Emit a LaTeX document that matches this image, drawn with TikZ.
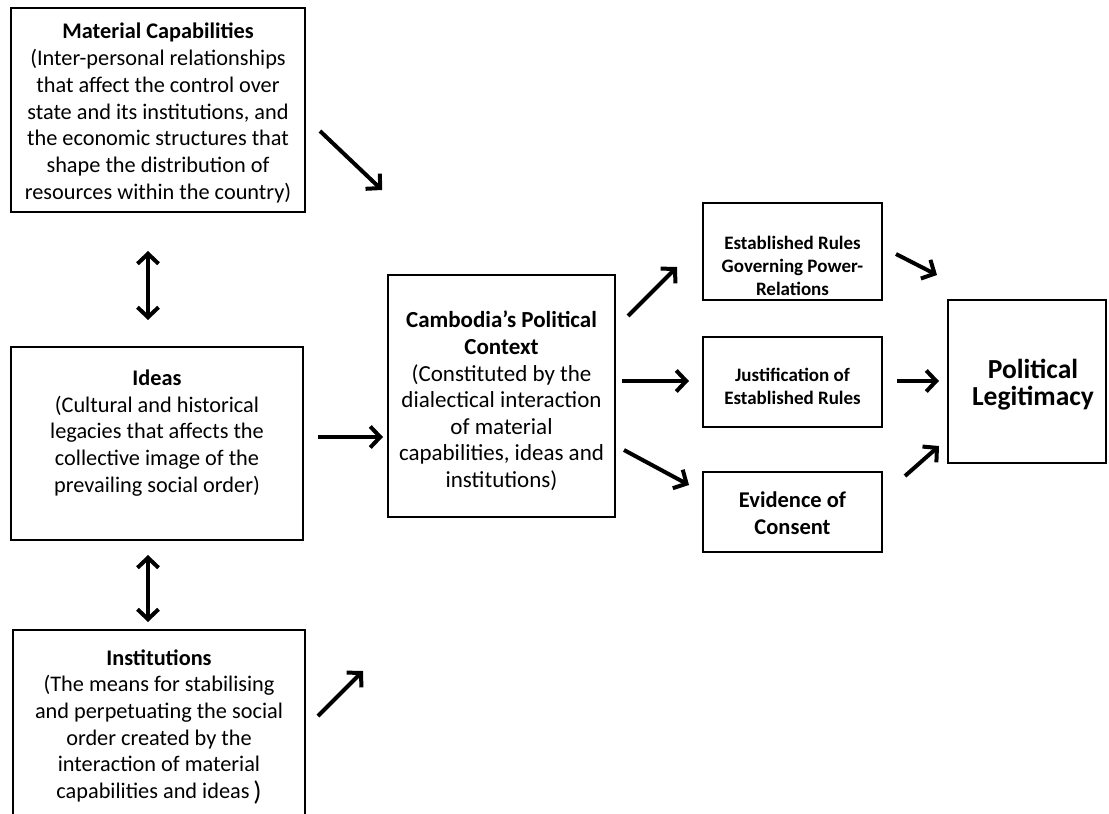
\documentclass[tikz,border=0pt]{standalone}
\usepackage{fontspec}
\setmainfont{Carlito}
\usetikzlibrary{arrows.meta}
\tikzset{
  box/.style={draw, line width=2pt, inner sep=0pt, fill=none},
  txt/.style={align=center, inner sep=0pt},
  tip/.tip={Straight Barb[length=10pt,width=21pt,line width=4pt]},
  arr/.style={line width=4pt, -tip},
  darr/.style={line width=4pt, tip-tip},
  big/.style={font=\fontsize{22.3}{26.7}\selectfont},
  small/.style={font=\fontsize{19}{23}\selectfont\bfseries},
}
\begin{document}
\begin{tikzpicture}[x=1pt,y=-1pt]
\useasboundingbox[fill=white] (0,0) rectangle (1109,814);
% boxes
\node[box, minimum width=294pt, minimum height=204pt] (mat) at (158,110) {};
\node[box, minimum width=292pt, minimum height=193pt] (ide) at (157,443.5) {};
\node[box, minimum width=292pt, minimum height=204pt] (ins) at (159,732) {};
\node[box, minimum width=227pt, minimum height=242pt] (ctx) at (501.5,396) {};
\node[box, minimum width=179pt, minimum height=97pt] (est) at (792.5,251.5) {};
\node[box, minimum width=179pt, minimum height=90pt] (jus) at (792.5,382) {};
\node[box, minimum width=179pt, minimum height=80pt] (evi) at (792.5,512) {};
\node[box, minimum width=158pt, minimum height=163pt] (leg) at (1027,381.5) {};
% texts
\node[txt, big] (matT) at (158,113) {\textbf{Material Capabilities}\\(Inter-personal relationships\\that affect the control over\\state and its institutions, and\\the economic structures that\\shape the distribution of\\resources within the country)};
\node[txt, big] (ideT) at (157,433) {\textbf{Ideas}\\(Cultural and historical\\legacies that affects the\\collective image of the\\prevailing social order)};
\node[txt, big] (insT) at (159,727) {\textbf{Institutions}\\(The means for stabilising\\and perpetuating the social\\order created by the\\interaction of material\\capabilities and ideas\,\raisebox{-0.1em}{\fontsize{27}{27}\selectfont)}};
\node[txt, font=\fontsize{23}{26.6}\selectfont] (ctxT) at (501.5,401) {\textbf{Cambodia’s Political}\\\textbf{Context}\\(Constituted by the\\dialectical interaction\\of material\\capabilities, ideas and\\institutions)};
\node[txt, small] (estT) at (792.5,266) {Established Rules\\Governing Power-\\Relations};
\node[txt, small] (jusT) at (792.5,386) {Justification of\\Established Rules};
\node[txt, font=\fontsize{22.5}{27}\selectfont\bfseries] (eviT) at (792.5,513.5) {Evidence of\\Consent};
\node[txt, font=\fontsize{27.5}{27}\selectfont\bfseries] (legT) at (1033,385) {Political\\Legitimacy};
% arrow end points
\coordinate (a1s) at (320,131); \coordinate (a1e) at (382,190);
\coordinate (a2s) at (148,251); \coordinate (a2e) at (148,320);
\coordinate (a3s) at (148,555); \coordinate (a3e) at (148,622);
\coordinate (a4s) at (318,437); \coordinate (a4e) at (383,437);
\coordinate (a5s) at (318,716); \coordinate (a5e) at (363,671);
\coordinate (a6s) at (628,316); \coordinate (a6e) at (677,267);
\coordinate (a7s) at (622,381); \coordinate (a7e) at (689,381);
\coordinate (a8s) at (624,450); \coordinate (a8e) at (689,485);
\coordinate (a9s) at (896,254); \coordinate (a9e) at (937,275);
\coordinate (a10s) at (897,381); \coordinate (a10e) at (939,381);
\coordinate (a11s) at (905,476); \coordinate (a11e) at (939,446);
\draw[arr] (a1s) -- (a1e);
\draw[darr] (a2s) -- (a2e);
\draw[darr] (a3s) -- (a3e);
\draw[arr] (a4s) -- (a4e);
\draw[arr] (a5s) -- (a5e);
\draw[arr] (a6s) -- (a6e);
\draw[arr] (a7s) -- (a7e);
\draw[arr] (a8s) -- (a8e);
\draw[arr] (a9s) -- (a9e);
\draw[arr] (a10s) -- (a10e);
\draw[arr] (a11s) -- (a11e);
\end{tikzpicture}
\end{document}
